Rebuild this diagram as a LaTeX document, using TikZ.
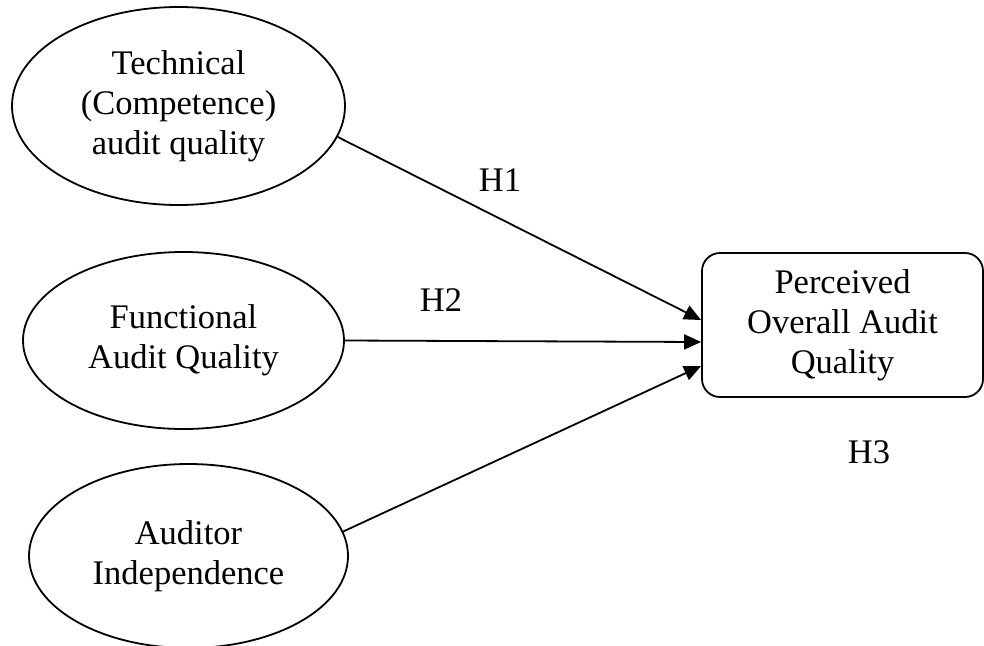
\documentclass[tikz,border=0pt]{standalone}
\usepackage{fontspec}
\setmainfont{Liberation Serif}
\usetikzlibrary{positioning, arrows.meta, calc, shapes.geometric}

\begin{document}
\begin{tikzpicture}[x=1pt, y=-1pt, >={Triangle[length=17pt, width=15pt]},
  every node/.style={font=\fontsize{34.5}{40}\selectfont},
  construct/.style={draw, ellipse, line width=1.8pt, inner sep=0pt, align=center},
  outcome/.style={draw, rounded corners=18pt, line width=1.8pt, inner sep=0pt,
    minimum width=281pt, minimum height=144pt, align=center},
  arrow/.style={->, line width=1.8pt},
  hyp/.style={inner sep=0pt}]

\useasboundingbox (0, 0) rectangle (984, 645);

% --- Constructs ---
\node[construct, minimum width=333pt, minimum height=198pt] (tech) at (178.5, 106)
  {Technical\\(Competence)\\audit quality};
\node[construct, minimum width=321pt, minimum height=177pt] (func) at (183.5, 340.5)
  {Functional\\Audit Quality};
\node[construct, minimum width=319pt, minimum height=184pt] (indep) at (188.5, 556)
  {Auditor\\Independence};

% --- Outcome ---
\node[outcome] (poaq) at (842.5, 325) {Perceived\\Overall Audit\\Quality};

% --- Arrow ends on the box ---
\coordinate (in1) at ($(poaq.west)+(0, -5)$);
\coordinate (in2) at ($(poaq.west)+(0, 17)$);
\coordinate (in3) at ($(poaq.west)+(0, 41)$);

% --- Hypotheses ---
\draw[arrow] (tech.-11) -- (in1);
\draw[arrow] (func.east) -- (in2);
\draw[arrow] (indep.9) -- (in3);

% --- Labels ---
\node[hyp] (h1) at (500, 180) {H1};
\node[hyp] (h2) at (441, 300) {H2};
\node[hyp] (h3) at (869, 452) {H3};

\end{tikzpicture}
\end{document}
